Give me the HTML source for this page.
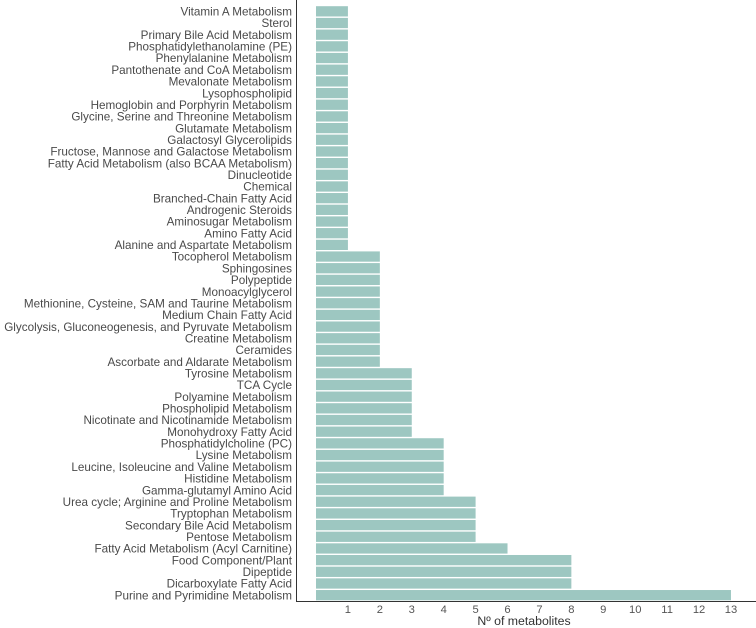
<!DOCTYPE html>
<html><head><meta charset="utf-8"><style>
body{margin:0;background:#fff;}
svg{display:block;font-family:"Liberation Sans",sans-serif;}
</style></head><body>
<svg id="chart" width="756" height="628"></svg>
<script>
const categories = ["Vitamin A Metabolism","Sterol","Primary Bile Acid Metabolism","Phosphatidylethanolamine (PE)","Phenylalanine Metabolism","Pantothenate and CoA Metabolism","Mevalonate Metabolism","Lysophospholipid","Hemoglobin and Porphyrin Metabolism","Glycine, Serine and Threonine Metabolism","Glutamate Metabolism","Galactosyl Glycerolipids","Fructose, Mannose and Galactose Metabolism","Fatty Acid Metabolism (also BCAA Metabolism)","Dinucleotide","Chemical","Branched-Chain Fatty Acid","Androgenic Steroids","Aminosugar Metabolism","Amino Fatty Acid","Alanine and Aspartate Metabolism","Tocopherol Metabolism","Sphingosines","Polypeptide","Monoacylglycerol","Methionine, Cysteine, SAM and Taurine Metabolism","Medium Chain Fatty Acid","Glycolysis, Gluconeogenesis, and Pyruvate Metabolism","Creatine Metabolism","Ceramides","Ascorbate and Aldarate Metabolism","Tyrosine Metabolism","TCA Cycle","Polyamine Metabolism","Phospholipid Metabolism","Nicotinate and Nicotinamide Metabolism","Monohydroxy Fatty Acid","Phosphatidylcholine (PC)","Lysine Metabolism","Leucine, Isoleucine and Valine Metabolism","Histidine Metabolism","Gamma-glutamyl Amino Acid","Urea cycle; Arginine and Proline Metabolism","Tryptophan Metabolism","Secondary Bile Acid Metabolism","Pentose Metabolism","Fatty Acid Metabolism (Acyl Carnitine)","Food Component/Plant","Dipeptide","Dicarboxylate Fatty Acid","Purine and Pyrimidine Metabolism"];
const values = [1,1,1,1,1,1,1,1,1,1,1,1,1,1,1,1,1,1,1,1,1,2,2,2,2,2,2,2,2,2,2,3,3,3,3,3,3,4,4,4,4,4,5,5,5,5,6,8,8,8,13];
const xTicks = [1,2,3,4,5,6,7,8,9,10,11,12,13];
const xTitle = "Nº of metabolites";

const svg = document.getElementById('chart');
const NS = 'http://www.w3.org/2000/svg';
const x0 = 316, unit = 31.92;
const xs = v => x0 + v * unit;
const top0 = 5.5, bottom0 = 601;
const band = (bottom0 - top0) / categories.length;
const ys = i => top0 + i * band;
function mk(tag, attrs){const e=document.createElementNS(NS,tag);for(const k in attrs)e.setAttribute(k,attrs[k]);svg.appendChild(e);return e;}

categories.forEach((c,i)=>{
  const r = mk('rect',{x:x0,y:ys(i)+0.7,width:xs(values[i])-x0,height:band-1.4,fill:'#9dc7c1'});
  
  
  const t = mk('text',{x:292,y:ys(i)+band/2+4.2,'text-anchor':'end','font-size':'11.7',fill:'#4a4a4a'});
  t.textContent = c;
  
  
});
const ya = mk('line',{x1:296.5,y1:0,x2:296.5,y2:601.5,stroke:'#333','stroke-width':1});


const xa = mk('line',{x1:296,y1:601.5,x2:756,y2:601.5,stroke:'#333','stroke-width':1});


xTicks.forEach(v=>{
  const t = mk('text',{x:xs(v),y:613,'text-anchor':'middle','font-size':'11.2',fill:'#555'});
  t.textContent = v;
  
  
});
const tt = mk('text',{x:524,y:625,'text-anchor':'middle','font-size':'12.3',fill:'#333'});
tt.textContent = xTitle;


</script>
</body></html>
